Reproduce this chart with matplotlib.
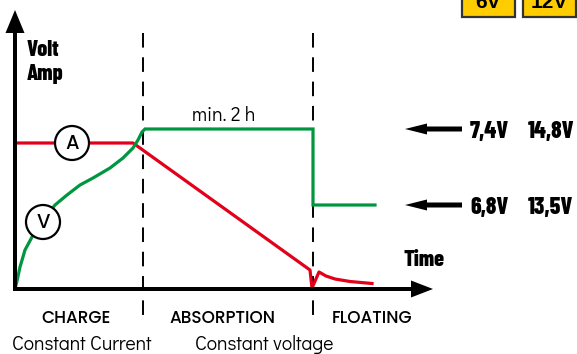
import matplotlib.pyplot as plt
from matplotlib.patches import Circle, Rectangle

# voltage curve (green) and current curve (red), time vs level
voltage_t = [0, 2, 5, 10, 17, 27, 40, 52, 65, 78, 95, 108, 118, 123, 127, 130, 298, 298, 360]
voltage_v = [0, 8, 22, 39, 52, 68, 84, 94, 104, 111, 121, 131, 141, 149, 157, 160, 160, 84, 84]

current_t = [0, 118, 295, 297, 304, 311, 320, 335, 357]
current_a = [146, 146, 19, 1, 17, 13, 10, 7.5, 5.5]

phase_bounds = [128, 298]
phase_names = ['CHARGE', 'ABSORPTION', 'FLOATING']
phase_name_x = [61, 207, 357]
phase_modes = ['Constant Current', 'Constant voltage']
phase_mode_x = [67, 249]

level_y = [160, 84]
level_6v = ['7,4V', '6,8V']
level_12v = ['14,8V', '13,5V']
badges = ['6V', '12V']

red = '#e2001a'
green = '#00963f'
heavy = dict(family=['Barlow Condensed', 'DejaVu Sans'], weight=800)
geo = ['Didact Gothic', 'Lato']
geo_bold = ['Poppins', 'Lato']

fig = plt.figure(figsize=(5.77, 3.54), dpi=100)
ax = fig.add_axes([0, 0, 1, 1])
ax.set_xlim(-15, 562)
ax.set_ylim(-65, 289)
ax.axis('off')

# axes arrows
ax.arrow(0, -2, 0, 281, width=4, head_width=19, head_length=23,
         length_includes_head=True, color='black', lw=0, zorder=5)
ax.arrow(-2, 0, 420, 0, width=4, head_width=17, head_length=22,
         length_includes_head=True, color='black', lw=0, zorder=5)

# phase boundaries
for xb in phase_bounds:
    ax.plot([xb, xb], [256, -33], color='black', lw=1.4,
            linestyle=(0, (7.5, 5)), zorder=2)

ax.plot(current_t, current_a, color=red, lw=2.3, zorder=3)
ax.plot(voltage_t, voltage_v, color=green, lw=2.3, zorder=3,
        solid_joinstyle='miter')

# markers on curves
for (cx, cy), lab in [((57, 146), 'A'), ((28, 67), 'V')]:
    ax.add_patch(Circle((cx, cy), 17, facecolor='white', edgecolor='black',
                        lw=1.6, zorder=4))
    ax.text(cx, cy - 1, lab, ha='center', va='center', fontsize=14,
            family=geo_bold, weight='medium', zorder=5)

ax.text(12, 233, 'Volt', fontsize=16, **heavy)
ax.text(12, 209, 'Amp', fontsize=16, **heavy)
ax.text(388, 23, 'Time', fontsize=16, **heavy)
ax.text(209, 168, 'min. 2 h', ha='center', fontsize=14, family=geo)

# level arrows and values
for y, a, b in zip(level_y, level_6v, level_12v):
    ax.arrow(447, y, -57, 0, width=5, head_width=11, head_length=22,
             length_includes_head=True, color='black', lw=0)
    ax.text(455, y - 9, a, fontsize=17, **heavy)
    ax.text(513, y - 9, b, fontsize=17, **heavy)

# battery badges
for x0, lab in zip([447, 508], badges):
    ax.add_patch(Rectangle((x0, 272), 53, 30, facecolor='#ffcc00',
                           edgecolor='#333333', lw=1.6))
    ax.text(x0 + 26.5, 281, lab, ha='center', fontsize=15,
            family=['Liberation Sans', 'DejaVu Sans'], weight='bold')

for x, name in zip(phase_name_x, phase_names):
    ax.text(x, -34, name, ha='center', fontsize=12.2, family=geo_bold,
            weight='medium')
for x, mode in zip(phase_mode_x, phase_modes):
    ax.text(x, -61, mode, ha='center', fontsize=14, family=geo)

fig.savefig('out.png', dpi=100)
